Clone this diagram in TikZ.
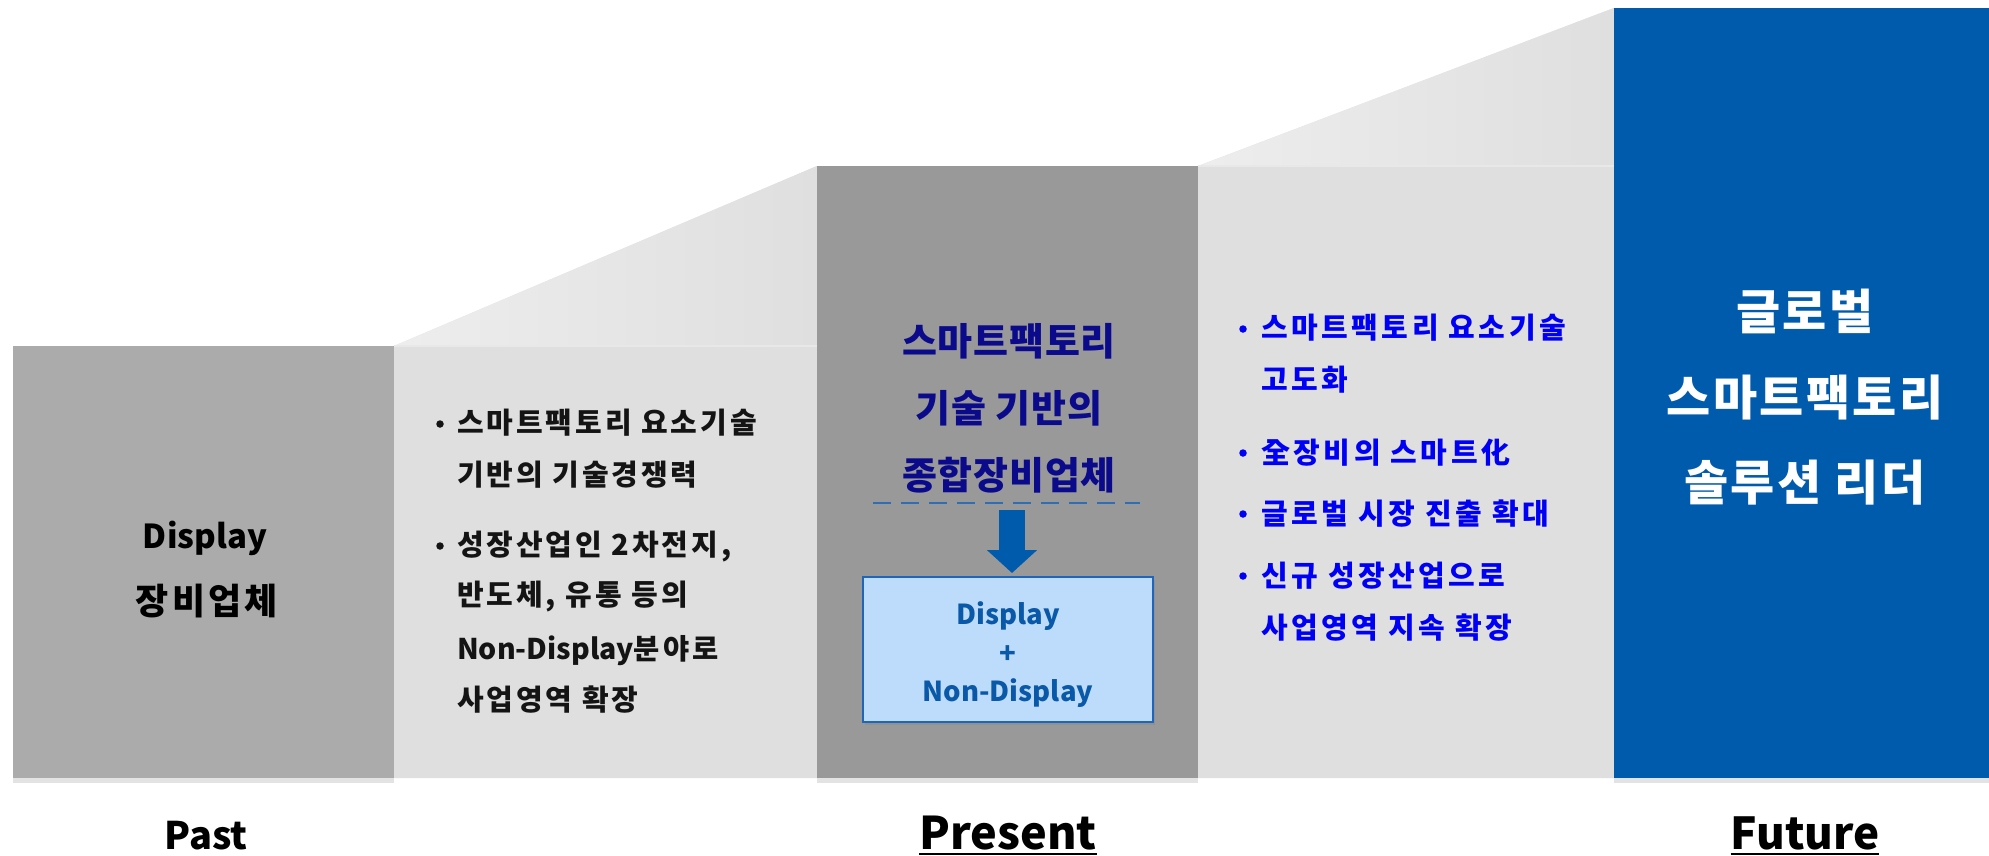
\documentclass[tikz,border=0pt]{standalone}
\usepackage{fontspec}
\setmainfont{Noto Sans CJK KR}
\usetikzlibrary{shadows,arrows.meta}
\definecolor{pastgray}{HTML}{ABABAB}
\definecolor{panelgray}{HTML}{DFDFDF}
\definecolor{presgray}{HTML}{999999}
\definecolor{futblue}{HTML}{005BAC}
\definecolor{navy}{HTML}{0A0A8A}
\definecolor{brightblue}{HTML}{0000F5}
\definecolor{subfill}{HTML}{BDDCFB}
\definecolor{subline}{HTML}{1F66BA}
\definecolor{subtext}{HTML}{0A58A8}
\definecolor{dashblue}{HTML}{2F6EB5}
\definecolor{darktext}{HTML}{141414}
\newcommand\myul[1]{\setbox0\hbox{#1}\rlap{\rule[-6pt]{\wd0}{2.5pt}}\box0}
\newcommand\fsz[1]{\bfseries\fontsize{#1}{#1}\selectfont}
\newcommand\wide[1]{\addfontfeatures{LetterSpace=#1}}
\begin{document}
\begin{tikzpicture}[x=1pt,y=-1pt,
  box/.style={draw=none, inner sep=0pt, outer sep=0pt},
  shad/.style={drop shadow={shadow xshift=0pt, shadow yshift=-5pt, opacity=0.22}},
  cline/.style={inner sep=0pt, anchor=base},
  wline/.style={inner sep=0pt, anchor=base west},
  lefttxt/.style={wline, text=darktext, font=\fsz{29}\wide{10}},
  righttxt/.style={wline, text=brightblue, font=\fsz{29}\wide{12}},
  dot/.style={circle, inner sep=0pt, minimum size=7.5pt},
  titletxt/.style={cline, text=navy, font=\fsz{38}\wide{2}},
  subtxt/.style={cline, text=subtext, font=\fsz{27.5}},
  futtxt/.style={cline, text=white, font=\fsz{48}\wide{5}},
  label/.style={inner sep=0pt, anchor=base, text=black}
]
\useasboundingbox (0,0) rectangle (1989,855);
\fill[white] (0,0) rectangle (1989,855);

% light panels with rising wedges
\fill[panelgray] (394,346) -- (817,166) -- (817,778) -- (394,778) -- cycle;
\fill[panelgray] (1198,166) -- (1614,8) -- (1614,778) -- (1198,778) -- cycle;
\shade[left color=panelgray!55!white, right color=panelgray] (394,346) -- (817,166) -- (817,346) -- cycle;
\shade[left color=panelgray!55!white, right color=panelgray] (1198,166) -- (1614,8) -- (1614,166) -- cycle;
\draw[white!91!black, line width=1.5pt] (394,346) -- (817,346);
\draw[white!91!black, line width=1.5pt] (1198,166) -- (1614,166);

% main boxes
\node[box, shad, fill=pastgray, minimum width=381pt, minimum height=432pt] (past) at (203.5,562) {};
\node[box, shad, fill=presgray, minimum width=381pt, minimum height=612pt] (pres) at (1007.5,472) {};
\node[box, shad, fill=futblue, minimum width=376pt, minimum height=770pt] (fut) at (1802,393) {};

% past text
\node[cline, text=black, font=\fsz{33}] (pt1) at (205,548) {Display};
\node[cline, text=black, font=\fsz{36}\wide{9}] (pt2) at (207,614) {장비업체};

% left list
\node[dot, fill=darktext] (lb1) at (440,424) {};
\node[dot, fill=darktext] (lb2) at (440,546) {};
\node[lefttxt] (l1) at (457,433) {스마트팩토리 요소기술};
\node[lefttxt] (l2) at (457,485) {기반의 기술경쟁력};
\node[lefttxt] (l3) at (457,555) {성장산업인 2차전지,};
\node[lefttxt] (l4) at (457,605) {반도체, 유통 등의};
\node[wline, text=darktext, font=\fsz{28.5}] (l5) at (457,659) {Non-Display\wide{10}분야로};
\node[lefttxt] (l6) at (457,710) {사업영역 확장};

% present title
\node[titletxt] (pr1) at (1009,355) {스마트팩토리};
\node[titletxt] (pr2) at (1009,422) {기술 기반의};
\node[titletxt] (pr3) at (1009,489) {종합장비업체};

% dashed separator
\coordinate (dl) at (873,503);
\coordinate (dr) at (1140,503);
\draw[dashblue, line width=2.5pt, dash pattern=on 18pt off 10pt] (dl) -- (dr);

% sub box
\node[box, draw=subline, line width=2pt, fill=subfill, minimum width=290pt, minimum height=145pt,
      drop shadow={shadow xshift=2pt, shadow yshift=-3pt, opacity=0.3}] (sub) at (1008,649.5) {};
\node[subtxt] (s1) at (1008,624) {Display};
\node[subtxt] (s2) at (1008,663) {+};
\node[subtxt] (s3) at (1008,701) {Non-Display};

% down arrow
\coordinate (atop) at (1012,510);
\draw[futblue, line width=26pt, -{Triangle[length=23pt,width=49pt]}, shorten >=4pt] (atop) -- (atop |- sub.north);

% right list
\node[dot, fill=brightblue] (rb1) at (1243,329) {};
\node[dot, fill=brightblue] (rb2) at (1243,453) {};
\node[dot, fill=brightblue] (rb3) at (1243,514) {};
\node[dot, fill=brightblue] (rb4) at (1243,576) {};
\node[righttxt] (r1) at (1261,338) {스마트팩토리 요소기술};
\node[righttxt] (r2) at (1261,390) {고도화};
\node[righttxt] (r3) at (1261,463) {全장비의 스마트化};
\node[righttxt] (r4) at (1261,524) {글로벌 시장 진출 확대};
\node[righttxt] (r5) at (1261,586) {신규 성장산업으로};
\node[righttxt] (r6) at (1261,638) {사업영역 지속 확장};

% future text
\node[futtxt] (f1) at (1805,329) {글로벌};
\node[futtxt] (f2) at (1805,415) {스마트팩토리};
\node[futtxt] (f3) at (1805,500) {솔루션 리더};

% time labels
\node[label, font=\fsz{38}] (lpast) at (206,849) {Past};
\node[label, font=\fsz{45}] (lpres) at (1008,849) {\myul{Present}};
\node[label, font=\fsz{44}] (lfut) at (1805,849) {\myul{Future}};
\end{tikzpicture}
\end{document}
